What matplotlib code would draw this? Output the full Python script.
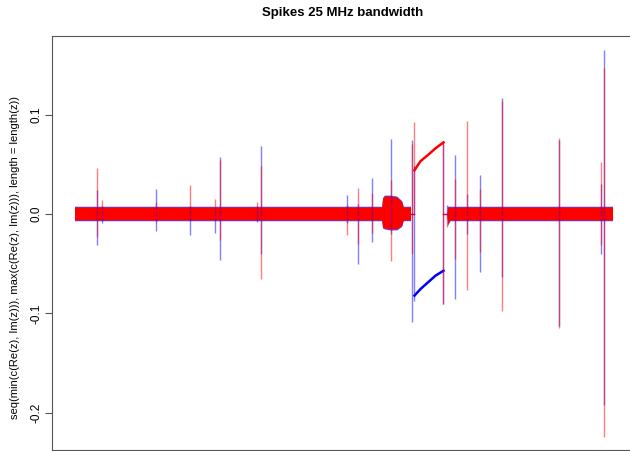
import matplotlib
matplotlib.use('Agg')
import matplotlib.pyplot as plt
import numpy as np

plt.rcParams['font.family'] = ['Liberation Sans', 'DejaVu Sans']

# spikes: sample index, Re low/high, Im low/high
spike_x = [403, 507, 1500, 2138, 2608, 2695, 3377, 3457, 5056, 5266, 5515, 5868,
           6258, 6310, 6849, 6920, 7072, 7292, 7522, 7931, 8996, 9771, 9838]
re_lo = [-0.031, -0.009, -0.017, -0.021, -0.019, -0.046, -0.008, -0.040, -0.009, -0.050, -0.028, -0.020,
         -0.109, -0.087, -0.090, -0.005, -0.085, -0.020, -0.058, -0.063, -0.113, -0.040, -0.192]
re_hi = [0.024, 0.008, 0.025, 0.008, 0.006, 0.057, 0.008, 0.068, 0.019, 0.010, 0.036, 0.075,
         0.0745, 0.048, 0.072, 0.009, 0.059, 0.020, 0.039, 0.1165, 0.074, 0.030, 0.165]
im_lo = [-0.023, -0.006, -0.008, -0.006, -0.006, -0.026, -0.006, -0.065, -0.021, -0.030, -0.019, -0.047,
         -0.040, 0.000, -0.090, -0.013, -0.045, -0.0765, -0.038, -0.097, -0.115, -0.031, -0.224]
im_hi = [0.046, 0.014, 0.0125, 0.029, 0.015, 0.054, 0.012, 0.048, 0.009, 0.026, 0.021, 0.034,
         0.070, 0.092, 0.072, 0.003, 0.035, 0.093, 0.025, 0.114, 0.076, 0.052, 0.147]

# noise envelope (segment 1 with burst, gap, segment 2)
env_x = [0, 5710, 5725, 5760, 5860, 5990, 6080, 6110, 6245, 6246,
         6929, 6930, 6980, 10000]
re_env_hi = [0.0073, 0.0073, 0.016, 0.0185, 0.0185, 0.0175, 0.013, 0.0073, 0.0073, np.nan,
             np.nan, 0.0073, 0.0073, 0.0073]
re_env_lo = [-0.0073, -0.0073, -0.0145, -0.0155, -0.0165, -0.0165, -0.013, -0.0073, -0.0073, np.nan,
             np.nan, -0.012, -0.0073, -0.0073]
im_env_hi = [0.0065, 0.0065, 0.015, 0.0175, 0.0175, 0.0165, 0.012, 0.0065, 0.0065, np.nan,
             np.nan, 0.0065, 0.0065, 0.0065]
im_env_lo = [-0.0065, -0.0065, -0.0135, -0.0145, -0.0155, -0.0155, -0.012, -0.0065, -0.0065, np.nan,
             np.nan, -0.011, -0.0065, -0.0065]

# offset stretch between the two big jumps
off_x = [6310, 6420, 6575, 6700, 6849]
re_off = [-0.082, -0.0755, -0.068, -0.062, -0.057]
im_off = [0.044, 0.053, 0.060, 0.066, 0.072]
zero_x = [[6245, 6310], [6849, 6930]]

fig = plt.figure(figsize=(6.30, 4.51), dpi=100)
ax = fig.add_axes([52/630, 1/451, 582/630, 414/451])

ex = np.array(env_x)
ax.fill_between(ex, re_env_lo, re_env_hi, color='blue', alpha=0.7, lw=0)
for a, b in zero_x:
    ax.plot([a, b], [0, 0], color='red', lw=1)
ax.plot(off_x, re_off, color='blue', lw=1.8)
ax.vlines(spike_x, re_lo, re_hi, color='blue', lw=1.0, alpha=0.5)
ax.fill_between(ex, im_env_lo, im_env_hi, color='red', lw=0)
ax.plot(off_x, im_off, color='red', lw=1.8)
ax.vlines(spike_x, im_lo, im_hi, color='red', lw=1.0, alpha=0.5)

ax.set_xlim(-428, 10390)
ax.set_ylim(-0.2372, 0.1789)
ax.set_xticks([])
ax.set_yticks([-0.2, -0.1, 0.0, 0.1])
ax.set_yticklabels(['-0.2', '-0.1', '0.0', '0.1'], rotation=90, va='center', fontsize=8.5)
ax.tick_params(axis='y', length=5, width=0.8, color='#555555', pad=1.5)
for s in ax.spines.values():
    s.set_color('#555555')
    s.set_linewidth(0.8)
ax.set_ylabel('seq(min(c(Re(z), Im(z))), max(c(Re(z), Im(z))), length = length(z))', fontsize=8)
ax.yaxis.set_label_coords(-37/582, 0.466)
ax.yaxis.label.set_va('center')
fig.text(343/630, 1-13/451, 'Spikes 25 MHz bandwidth', ha='center', va='center', fontsize=9.5, fontweight='bold')

fig.savefig('out.png', dpi=100, facecolor='white')
